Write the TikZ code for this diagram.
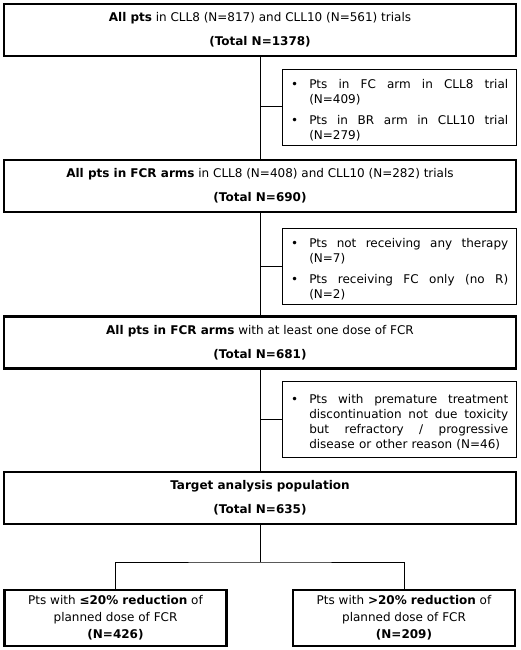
\documentclass[tikz,border=0pt]{standalone}
\usepackage{fontspec}
\setmainfont{DejaVu Sans}
\usepackage{enumitem}
\usepackage{tikz}

% justified exclusion text: no hyphens, wide spaces
\newcommand{\exclfmt}{\tolerance=10000 \hyphenpenalty=10000 \spaceskip=.35em plus 1em\relax}

\tikzset{
  mainbox/.style={draw, line width=2.4pt, minimum width=512pt, minimum height=52pt,
    align=center, font=\fontsize{12}{14.5}\selectfont},
  sidebox/.style={draw, line width=0.9pt, minimum width=234pt, minimum height=76pt,
    text width=218.5pt, inner xsep=7.75pt, align=justify, font=\fontsize{12}{15}\selectfont},
  endbox/.style={draw, line width=2.4pt, minimum width=222pt, minimum height=56pt,
    align=center, font=\fontsize{12}{17}\selectfont},
  link/.style={line width=1pt}
}

\begin{document}
\begin{tikzpicture}[x=1pt, y=1pt]
        \useasboundingbox (0,0) rectangle (520,-650);
        % main flow
        \node [mainbox] (all) at (260,-30) {\textbf{All pts} in CLL8 (N=817) and CLL10 (N=561) trials\\[9.5pt] \textbf{(Total N=1378)}};
        \node [mainbox] (fcr) at (260,-186) {\textbf{All pts in FCR arms} in CLL8 (N=408) and CLL10 (N=282) trials\\[9.5pt] \textbf{(Total N=690)}};
        \node [mainbox] (dose) at (260,-342.5) {\textbf{All pts in FCR arms} with at least one dose of FCR\\[9.5pt] \textbf{(Total N=681)}};
        \node [mainbox] (target) at (260,-498) {\textbf{Target analysis population}\\[9.5pt] \textbf{(Total N=635)}};
        % exclusions
        \node [sidebox] (ex1) at (399,-107) {\exclfmt
          \begin{itemize}[leftmargin=19.5pt, labelsep=11pt, nosep, itemsep=6pt]
            \item Pts in FC arm in CLL8 trial (N=409)
            \item Pts in BR arm in CLL10 trial (N=279)
          \end{itemize}};
        \node [sidebox] (ex2) at (399,-266) {\exclfmt
          \begin{itemize}[leftmargin=19.5pt, labelsep=11pt, nosep, itemsep=6pt]
            \item Pts not receiving any therapy (N=7)
            \item Pts receiving FC only (no R) (N=2)
          \end{itemize}};
        \node [sidebox] (ex3) at (399,-419) {\exclfmt
          \begin{itemize}[leftmargin=19.5pt, labelsep=11pt, nosep]
            \item Pts with premature treatment discontinuation not due toxicity but refractory / progressive disease or other reason (N=46)
          \end{itemize}};
        % subgroups
        \node [endbox] (low) at (115.5,-618) {Pts with \textbf{≤20\% reduction} of\\ planned dose of FCR\\ \textbf{(N=426)}};
        \node [endbox] (high) at (404,-618) {Pts with \textbf{>20\% reduction} of\\ planned dose of FCR\\ \textbf{(N=209)}};
        \coordinate (split) at (260,-562);
        % connectors
        \draw [link] (all.south) -- (fcr.north);
        \draw [link] (fcr.south) -- (dose.north);
        \draw [link] (dose.south) -- (target.north);
        \draw [link] (all.south |- ex1.west) -- (ex1.west);
        \draw [link] (fcr.south |- ex2.west) -- (ex2.west);
        \draw [link] (dose.south |- ex3.west) -- (ex3.west);
        \draw [link] (target.south) -- (split);
        \draw [link] (low.north) |- (split) -| (high.north);
\end{tikzpicture}
\end{document}
